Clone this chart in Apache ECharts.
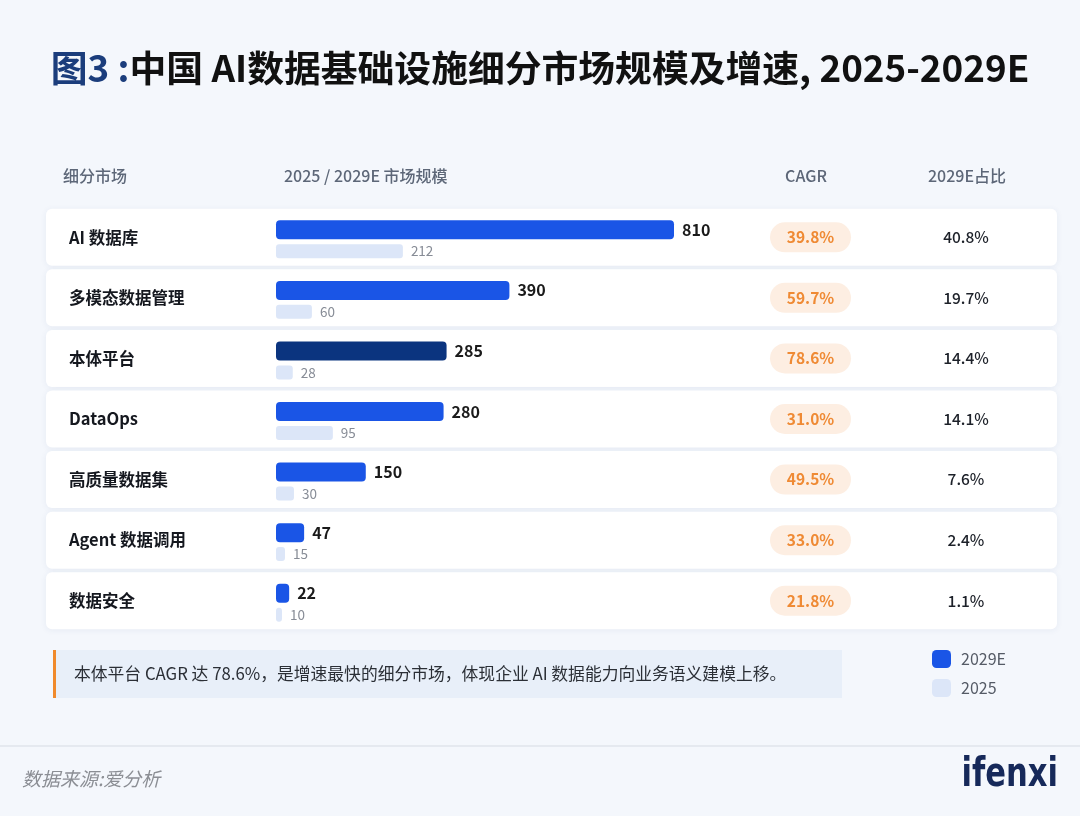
<!DOCTYPE html>
<html><head><meta charset="utf-8">
<script src="https://cdn.jsdelivr.net/npm/echarts@6/dist/echarts.min.js"></script>
<style>html,body{margin:0;padding:0;background:#f4f7fc}#c{width:1080px;height:816px}</style>
</head><body><div id="c"></div>
<script>
const titlePrefix = '图3 :';
const titleMain = '中国 AI数据基础设施细分市场规模及增速, 2025-2029E';
const headers = ['细分市场', '2025 / 2029E 市场规模', 'CAGR', '2029E占比'];
const categories = ['AI 数据库', '多模态数据管理', '本体平台', 'DataOps', '高质量数据集', 'Agent 数据调用', '数据安全'];
const size2029 = [810, 390, 285, 280, 150, 47, 22];
const size2025 = [212, 60, 28, 95, 30, 15, 10];
const cagr = [39.8, 59.7, 78.6, 31.0, 49.5, 33.0, 21.8];
const share2029 = [40.8, 19.7, 14.4, 14.1, 7.6, 2.4, 1.1];
const seriesNames = ['2029E', '2025'];
const note = '本体平台 CAGR 达 78.6%，是增速最快的细分市场，体现企业 AI 数据能力向业务语义建模上移。';
const source = '数据来源:爱分析';
const brand = 'ifenxi';

const FONT = '"Noto Sans CJK SC","Noto Sans",sans-serif';
const topIdx = cagr.indexOf(Math.max(...cagr));
const gridTop = 207, gridH = 424;

const chart = echarts.init(document.getElementById('c'));
const option = {
  backgroundColor: '#f4f7fc',
  textStyle: { fontFamily: FONT },
  animation: false,
  title: {
    text: '{a|' + titlePrefix + '}{b|' + titleMain + '}',
    left: 'center', top: 45,
    textStyle: {
      rich: {
        a: { fontSize: 36.8, fontWeight: 'bold', color: '#1b3d7c', fontFamily: FONT },
        b: { fontSize: 36.8, fontWeight: 'bold', color: '#111111', fontFamily: FONT }
      }
    }
  },
  legend: {
    data: seriesNames, orient: 'vertical', left: 932, top: 650, padding: 0,
    itemWidth: 19, itemHeight: 18, itemGap: 11, icon: 'roundRect',
    textStyle: { fontSize: 16, color: '#555b66', fontFamily: FONT, padding: [0, 0, 0, 5] }
  },
  grid: [
    { left: 46, right: 23, top: gridTop, height: gridH },
    { left: 276, width: 398, top: gridTop + 2, height: gridH }
  ],
  xAxis: [
    { gridIndex: 0, type: 'value', min: 0, max: 1, show: false },
    { gridIndex: 1, type: 'value', min: 0, max: 665, show: false }
  ],
  yAxis: [
    { gridIndex: 0, type: 'category', data: categories, inverse: true, show: false },
    { gridIndex: 1, type: 'category', data: categories, inverse: true, show: false }
  ],
  series: [
    {
      type: 'custom', name: 'rows', xAxisIndex: 0, yAxisIndex: 0, silent: true, z: 1,
      data: categories.map((c, i) => [0, i]),
      encode: { x: 0, y: 1 },
      renderItem: function (params, api) {
        const i = api.value(1);
        const cs = params.coordSys;
        const yc = api.coord([0, i])[1];
        const ch = 57;
        return {
          type: 'group',
          children: [
            { type: 'rect', shape: { x: cs.x, y: yc - ch / 2, width: cs.width, height: ch, r: 6 },
              style: { fill: '#ffffff', shadowBlur: 6, shadowColor: 'rgba(40,70,130,0.07)', shadowOffsetY: 1 } },
            { type: 'text', style: { text: categories[i], x: cs.x + 23, y: yc, align: 'left', verticalAlign: 'middle',
              fontSize: 16.5, fontWeight: 'bold', fill: '#15181f', fontFamily: FONT } },
            { type: 'rect', shape: { x: cs.x + 724, y: yc - 15, width: 81, height: 30, r: 15 },
              style: { fill: '#fdeee2' } },
            { type: 'text', style: { text: cagr[i].toFixed(1) + '%', x: cs.x + 764.5, y: yc, align: 'center', verticalAlign: 'middle',
              fontSize: 15.5, fontWeight: 'bold', fill: '#ef8a34', fontFamily: FONT } },
            { type: 'text', style: { text: share2029[i].toFixed(1) + '%', x: cs.x + 920, y: yc, align: 'center', verticalAlign: 'middle',
              fontSize: 15.5, fontWeight: 500, fill: '#1d2129', fontFamily: FONT } }
          ]
        };
      }
    },
    {
      type: 'bar', name: seriesNames[0], xAxisIndex: 1, yAxisIndex: 1, z: 3, clip: true,
      barWidth: 19, barGap: '26%',
      data: size2029.map((v, i) => i === topIdx ? { value: v, itemStyle: { color: '#0b347f' } } : v),
      itemStyle: { color: '#1a55e6', borderRadius: 4 },
      label: { show: true, position: 'right', distance: 8, fontSize: 16, fontWeight: 'bold', color: '#1a1a1a', fontFamily: FONT }
    },
    {
      type: 'bar', name: seriesNames[1], xAxisIndex: 1, yAxisIndex: 1, z: 3, clip: true,
      barWidth: 14, barGap: '26%',
      data: size2025,
      itemStyle: { color: '#dce6f8', borderRadius: 3 },
      label: { show: true, position: 'right', distance: 8, fontSize: 13.5, color: '#878c96', fontFamily: FONT }
    }
  ],
  graphic: [
    { type: 'text', x: 63, y: 176, style: { text: headers[0], verticalAlign: 'middle', fontSize: 16, fontWeight: 500, fill: '#5d6778', fontFamily: FONT } },
    { type: 'text', x: 284, y: 176, style: { text: headers[1], verticalAlign: 'middle', fontSize: 16, fontWeight: 500, fill: '#5d6778', fontFamily: FONT } },
    { type: 'text', x: 806, y: 176, style: { text: headers[2], align: 'center', verticalAlign: 'middle', fontSize: 16, fontWeight: 500, fill: '#5d6778', fontFamily: FONT } },
    { type: 'text', x: 967, y: 176, style: { text: headers[3], align: 'center', verticalAlign: 'middle', fontSize: 16, fontWeight: 500, fill: '#5d6778', fontFamily: FONT } },
    { type: 'rect', shape: { x: 53, y: 650, width: 789, height: 48 }, style: { fill: '#e8eff9' } },
    { type: 'rect', shape: { x: 53, y: 650, width: 3, height: 48 }, style: { fill: '#f08a2c' } },
    { type: 'text', x: 74, y: 674, style: { text: note, verticalAlign: 'middle', fontSize: 16.8, fill: '#2b2f36', fontFamily: FONT } },
    { type: 'line', shape: { x1: 0, y1: 746, x2: 1080, y2: 746 }, style: { stroke: '#d6dbe3', lineWidth: 1 } },
    { type: 'text', x: 22, y: 779, style: { text: source, verticalAlign: 'middle', fontSize: 19, fontStyle: 'italic', fill: '#8b8e94', fontFamily: FONT } },
    { type: 'text', x: 1058, y: 796, scaleY: 1.2,
      style: { text: brand, x: 0, y: 0, align: 'right', verticalAlign: 'bottom', fontSize: 34, fontWeight: 'bold', fill: '#16295a', fontFamily: '"DejaVu Sans Condensed","Liberation Sans",sans-serif' } }
  ]
};
chart.setOption(option);
</script>
</body></html>
